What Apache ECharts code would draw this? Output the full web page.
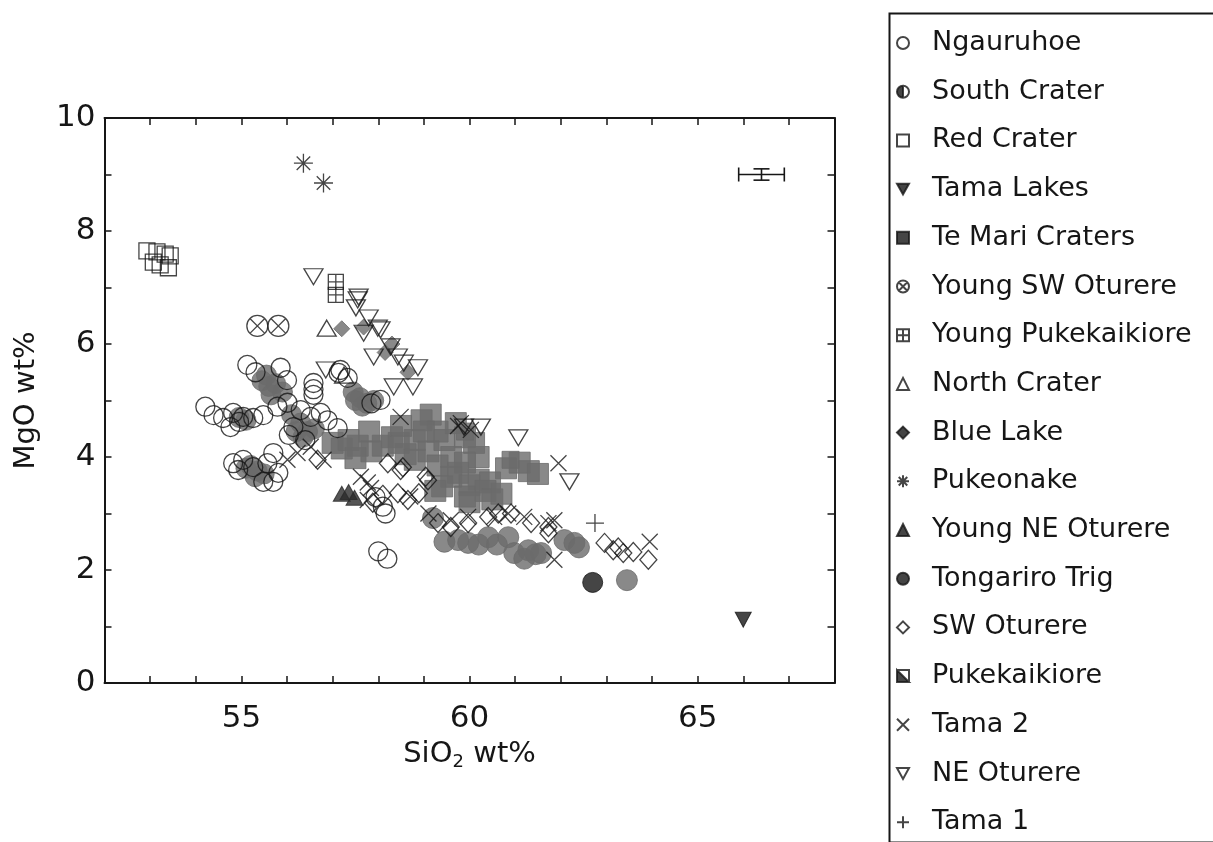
<!DOCTYPE html>
<html>
<head>
<meta charset="utf-8">
<script src="https://cdn.jsdelivr.net/npm/echarts@6/dist/echarts.min.js"></script>
<style>
html,body{margin:0;padding:0;background:#fff;}
#chart{width:1213px;height:842px;}
</style>
</head>
<body>
<div id="chart"></div>
<script>
// ---------- data (SiO2 wt%, MgO wt%) ----------
const ngauruhoe = [[55.13,5.63],[55.31,5.5],[55.86,5.58],[56.0,5.36],[56.58,5.31],[56.58,5.1],[56.58,5.2],
  [54.21,4.89],[54.39,4.74],[54.6,4.69],[54.82,4.78],[55.04,4.71],[55.26,4.69],[55.48,4.74],[54.76,4.53],[54.95,4.62],
  [55.79,4.89],[56.01,4.96],[56.3,4.83],[56.52,4.71],[56.74,4.78],[56.89,4.65],[57.11,4.51],[56.14,4.53],[56.04,4.39],[56.4,4.3],
  [54.82,3.89],[55.04,3.95],[54.93,3.77],[55.26,3.82],[55.57,3.89],[55.7,4.07],[55.81,3.72],[55.7,3.56],[55.48,3.56],
  [58.05,5.01],[57.33,5.4],[57.13,5.49],[57.17,5.54],[58.1,3.12],[57.94,3.29],[58.16,3.0],[58.0,2.33],[58.2,2.2],[57.85,4.95]];
const southCrater = [[55.45,5.35],[55.6,5.25],[55.75,5.3],[55.9,5.15],[55.65,5.1],[55.55,5.45],
  [57.45,5.15],[57.6,5.05],[57.75,4.95],[57.9,5.0],[57.65,4.9],[57.5,5.0],
  [56.1,4.75],[56.3,4.6],[56.45,4.45],[56.35,4.35],[56.6,4.5],[56.2,4.45],
  [55.2,3.85],[55.35,3.75],[55.5,3.7],[55.3,3.65],[55.1,3.8],[54.95,4.7],[55.1,4.65]];
const redCrater = [[52.93,7.65],[53.15,7.63],[53.33,7.59],[53.44,7.56],[53.07,7.45],[53.22,7.4],[53.4,7.35]];
const tamaLakes = [[66.0,1.12]];
const teMariCraters = [[57.0,4.25],[57.2,4.15],[57.35,4.3],[57.55,4.2],[57.8,4.45],[57.85,4.1],[57.5,3.98],[58.1,4.2],
  [58.3,4.35],[58.45,4.25],[58.8,4.3],[58.6,4.05],[58.8,3.95],[58.95,4.65],[59.15,4.75],[59.3,4.45],[59.45,4.3],[59.1,4.1],
  [59.3,3.85],[59.6,4.0],[59.9,4.35],[60.1,4.25],[60.2,4.0],[59.9,3.9],[59.75,3.72],[59.6,3.65],[60.0,3.5],[60.2,3.6],
  [60.45,3.55],[59.4,3.48],[59.25,3.4],[59.9,3.3],[60.35,3.4],[60.5,3.25],[60.8,3.8],[61.1,3.9],[61.3,3.75],[61.5,3.7],
  [60.7,3.35],[60.0,3.2],[59.7,4.6],[59.0,4.45],[58.5,4.55]];
const youngSWOturere = [[55.35,6.32],[55.81,6.32]];
const youngPukekaikiore = [[57.07,7.1],[57.07,6.87]];
const northCrater = [[56.87,6.28],[57.25,5.45]];
const blueLake = [[57.2,6.27],[57.68,6.3],[58.15,5.85],[58.65,5.5],[58.3,6.0]];
const pukeonake = [[56.36,9.2],[56.8,8.85]];
const youngNEOturere = [[57.2,3.35],[57.35,3.38],[57.48,3.28]];
const tongariroTrig = [[59.2,2.92],[59.45,2.5],[59.75,2.53],[59.97,2.48],[60.2,2.45],[60.41,2.58],[60.6,2.45],[60.85,2.58],
  [60.98,2.3],[61.2,2.2],[61.29,2.35],[61.45,2.28],[61.57,2.3],[62.08,2.53],[62.3,2.48],[62.4,2.4],[63.45,1.82]];
const tongariroTrigDark = [[62.7,1.78]];
const swOturere = [[58.21,3.89],[58.49,3.77],[58.1,3.33],[58.43,3.36],[58.65,3.24],[58.89,3.36],[59.09,3.59],[57.88,3.19],
  [56.67,3.95],[58.54,3.82],[59.04,3.65],[59.31,2.83],[59.59,2.76],[59.97,2.83],[60.41,2.94],[60.63,3.0],[60.91,3.0],
  [61.35,2.83],[61.73,2.76],[61.73,2.65],[62.96,2.48],[63.15,2.35],[63.37,2.3],[63.59,2.32],[63.92,2.18],[63.26,2.4]];
const pukekaikiore = [[60.9,3.95],[59.9,4.45]];
const tama2 = [[56.01,3.95],[56.23,4.07],[56.52,4.18],[56.8,3.95],[57.62,3.65],[57.77,3.55],[57.84,3.45],[57.77,3.24],
  [58.49,4.71],[59.75,4.55],[59.81,4.6],[60.03,4.48],[61.95,3.89],[60.85,3.0],[61.2,2.94],[61.73,2.83],[61.86,2.88],
  [61.86,2.18],[63.95,2.5],[60.54,2.94],[59.97,2.94],[59.59,2.88],[58.7,3.3],[59.1,3.0]];
const neOturere = [[56.58,7.19],[57.57,6.83],[57.51,6.64],[57.79,6.46],[57.99,6.28],[57.68,6.19],[58.27,5.95],[58.43,5.77],
  [57.9,5.77],[58.87,5.58],[58.56,5.66],[58.34,5.24],[58.76,5.24],[56.85,5.54],[59.88,4.53],[60.25,4.53],[61.07,4.34],
  [62.19,3.56],[57.55,6.78],[58.05,6.25]];
const tama1 = [[62.75,2.83]];
// analytical uncertainty bar: centre and half-widths
const errCentre = [66.4, 9.0];
const errHalf = [0.5, 0.1];
const xTicks = [55, 60, 65];
const yTicks = [0, 2, 4, 6, 8, 10];

// ---------- styling ----------
const FONT = "'DejaVu Sans', sans-serif";
const BLACK = '#161616';
const GRAY = '#6b6b6b';
const P = {
  circleX: 'path://M0,10 A10,10 0 1,0 20,10 A10,10 0 1,0 0,10 Z M2.93,2.93 L17.07,17.07 M17.07,2.93 L2.93,17.07',
  squarePlus: 'path://M0,0 L20,0 L20,20 L0,20 Z M10,0 L10,20 M0,10 L20,10',
  asterisk: 'path://M10,0 L10,20 M0,10 L20,10 M2.9,2.9 L17.1,17.1 M17.1,2.9 L2.9,17.1',
  cross: 'path://M0,0 L20,20 M20,0 L0,20',
  plus: 'path://M10,0 L10,20 M0,10 L20,10',
  triDown: 'path://M0,0 L20,0 L10,18 Z',
  halfCircle: 'path://M10,0 A10,10 0 0,1 10,20 A10,10 0 0,0 10,0 M10,0 A10,10 0 0,0 10,20 Z',
  halfSquare: 'path://M0,0 L20,0 L20,20 L0,20 L0,0 L0,20 L20,20 L20,0 L0,0 M0,0 L0,20 L20,20 Z'
};
const openStyle = {color: 'rgba(255,255,255,0)', borderColor: BLACK, borderWidth: 1.3};
const grayStyle = {color: GRAY, borderColor: GRAY, borderWidth: 1};
const darkStyle = {color: BLACK, borderColor: BLACK, borderWidth: 1};

// drawing order: gray filled first, outlines above
const specs = [
  {name: 'Te Mari Craters', data: teMariCraters, symbol: 'rect', size: 21, style: grayStyle},
  {name: 'Tongariro Trig', data: tongariroTrig, symbol: 'circle', size: 21, style: grayStyle},
  {name: 'Tongariro Trig', data: tongariroTrigDark, symbol: 'circle', size: 20, style: darkStyle},
  {name: 'South Crater', data: southCrater, symbol: 'circle', size: 20, style: grayStyle},
  {name: 'Blue Lake', data: blueLake, symbol: 'diamond', size: 16, style: grayStyle},
  {name: 'Pukekaikiore', data: pukekaikiore, symbol: 'rect', size: 17, style: grayStyle},
  {name: 'Ngauruhoe', data: ngauruhoe, symbol: 'circle', size: 19, style: openStyle},
  {name: 'Red Crater', data: redCrater, symbol: 'rect', size: 16, style: openStyle},
  {name: 'Young SW Oturere', data: youngSWOturere, symbol: P.circleX, size: 21, style: openStyle},
  {name: 'Young Pukekaikiore', data: youngPukekaikiore, symbol: P.squarePlus, size: 15, style: openStyle},
  {name: 'North Crater', data: northCrater, symbol: 'triangle', size: [19, 16], style: openStyle},
  {name: 'SW Oturere', data: swOturere, symbol: 'diamond', size: [17, 19], style: openStyle},
  {name: 'Tama 2', data: tama2, symbol: P.cross, size: 16, style: openStyle},
  {name: 'NE Oturere', data: neOturere, symbol: P.triDown, size: [19, 16], style: openStyle},
  {name: 'Tama 1', data: tama1, symbol: P.plus, size: 18, style: openStyle},
  {name: 'Pukeonake', data: pukeonake, symbol: P.asterisk, size: 19, style: openStyle},
  {name: 'Young NE Oturere', data: youngNEOturere, symbol: 'triangle', size: [17, 15], style: {color: '#2a2a2a', borderColor: '#2a2a2a', borderWidth: 1}},
  {name: 'Tama Lakes', data: tamaLakes, symbol: P.triDown, size: [16, 15], style: darkStyle}
];

const legendNames = ['Ngauruhoe','South Crater','Red Crater','Tama Lakes','Te Mari Craters','Young SW Oturere',
  'Young Pukekaikiore','North Crater','Blue Lake','Pukeonake','Young NE Oturere','Tongariro Trig','SW Oturere',
  'Pukekaikiore','Tama 2','NE Oturere','Tama 1'];
const filledLegend = ['South Crater','Tama Lakes','Te Mari Craters','Blue Lake','Young NE Oturere','Tongariro Trig','Pukekaikiore'];
const legendIcons = {'South Crater': P.halfCircle, 'Pukekaikiore': P.halfSquare};

const series = specs.map(s => ({
  type: 'scatter', name: s.name, data: s.data, symbol: s.symbol, symbolSize: s.size,
  itemStyle: s.style, emphasis: {disabled: true}, animation: false
}));

series.push({
  type: 'custom', name: 'error', data: [[errCentre[0], errCentre[1], errHalf[0], errHalf[1]]],
  animation: false, silent: true, z: 5,
  renderItem: function (params, api) {
    const x = api.value(0), y = api.value(1), ex = api.value(2), ey = api.value(3);
    const l = api.coord([x - ex, y]), r = api.coord([x + ex, y]);
    const t = api.coord([x, y + ey]), b = api.coord([x, y - ey]);
    const st = {stroke: BLACK, lineWidth: 1.6};
    const ln = (x1, y1, x2, y2) => ({type: 'line', shape: {x1, y1, x2, y2}, style: st});
    return {type: 'group', children: [
      ln(l[0], l[1], r[0], r[1]),
      ln(l[0], l[1] - 7, l[0], l[1] + 7),
      ln(r[0], r[1] - 7, r[0], r[1] + 7),
      ln(t[0], t[1], b[0], b[1]),
      ln(t[0] - 8, t[1], t[0] + 8, t[1]),
      ln(b[0] - 8, b[1], b[0] + 8, b[1])
    ]};
  }
});

const axisLine = {show: true, onZero: false, lineStyle: {color: BLACK, width: 2}};
const axisTick = {show: true, inside: true, length: 7, lineStyle: {color: BLACK, width: 1.5}};

const option = {
  backgroundColor: '#fff',
  animation: false,
  grid: {left: 104.5, top: 118, width: 730, height: 565, containLabel: false},
  xAxis: [{
    type: 'value', min: 52, max: 68, interval: 1, position: 'bottom',
    axisLine, axisTick, splitLine: {show: false},
    axisLabel: {formatter: v => xTicks.includes(v) ? String(v) : '', fontSize: 31, fontFamily: FONT, color: BLACK, margin: 20},
    name: 'SiO{s|2} wt%', nameLocation: 'middle', nameGap: 54,
    nameTextStyle: {fontSize: 29, fontFamily: FONT, color: BLACK,
      rich: {s: {fontSize: 18, fontFamily: FONT, color: BLACK, padding: [16, 0, 0, 0]}}}
  }, {
    type: 'value', min: 52, max: 68, interval: 1, position: 'top',
    axisLine, axisTick, axisLabel: {show: false}, splitLine: {show: false}
  }],
  yAxis: [{
    type: 'value', min: 0, max: 10, interval: 1, position: 'left',
    axisLine, axisTick, splitLine: {show: false},
    axisLabel: {formatter: v => yTicks.includes(v) ? String(v) : '', fontSize: 31, fontFamily: FONT, color: BLACK, margin: 9},
    name: 'MgO wt%', nameLocation: 'middle', nameGap: 64, nameRotate: 90,
    nameTextStyle: {fontSize: 29, fontFamily: FONT, color: BLACK}
  }, {
    type: 'value', min: 0, max: 10, interval: 1, position: 'right',
    axisLine, axisTick, axisLabel: {show: false}, splitLine: {show: false}
  }],
  legend: {
    orient: 'vertical', left: 896, top: 28, padding: 0, itemWidth: 12, itemHeight: 12, itemGap: 18.7,
    selectedMode: false,
    textStyle: {fontSize: 27, fontFamily: FONT, color: BLACK, lineHeight: 30, padding: [0, 0, 0, 18]},
    data: legendNames.map(n => {
      const item = {name: n};
      if (filledLegend.includes(n)) item.itemStyle = {color: BLACK, borderColor: BLACK};
      if (legendIcons[n]) item.icon = legendIcons[n];
      return item;
    })
  },
  graphic: [{
    type: 'rect', left: 887, top: 11, shape: {width: 330, height: 829},
    style: {fill: 'none', stroke: BLACK, lineWidth: 2}, silent: true
  }],
  series
};

const chart = echarts.init(document.getElementById('chart'), null, {renderer: 'canvas'});
chart.setOption(option);
</script>
</body>
</html>
